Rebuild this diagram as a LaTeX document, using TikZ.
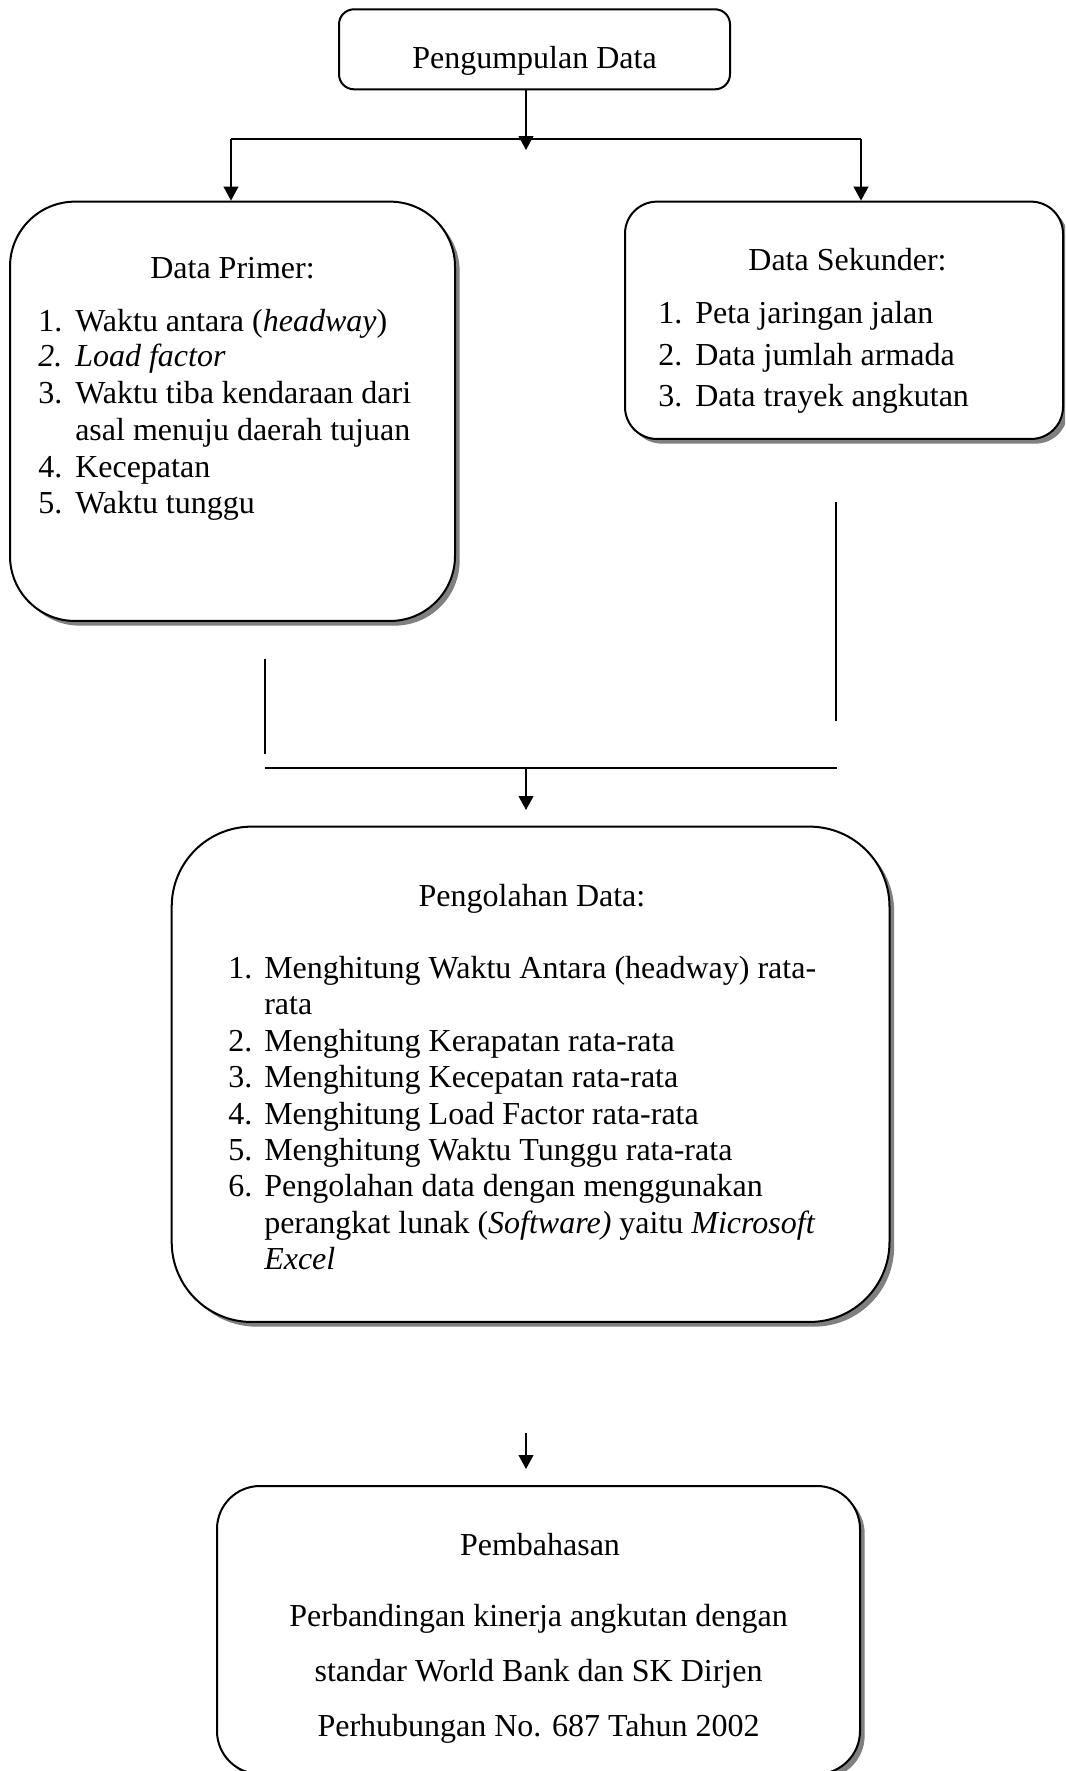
\documentclass[tikz,border=0pt]{standalone}
\usepackage{fontspec}
\setmainfont{Liberation Serif}
\usetikzlibrary{arrows.meta,shadows}
\begin{document}
\begin{tikzpicture}[x=0.75pt,y=-0.75pt,
  box/.style={draw, line width=1.5pt, fill=white, rounded corners=#1, inner sep=0pt},
  shad/.style={drop shadow={shadow xshift=3.5pt,shadow yshift=-3.5pt,fill=black!50,opacity=1}},
  txt/.style={font=\fontsize{24}{28}\selectfont, inner sep=0pt, anchor=base},
  lnum/.style={txt, anchor=base west},
  conn/.style={line width=1.5pt},
  arr/.style={conn, -{Triangle[width=11pt,length=10.5pt]}}]
\useasboundingbox (0,0) rectangle (1065,1771);
\clip (0,0) rectangle (1065,1771);

% boxes
\node[box=11.25pt, minimum width=293.25pt, minimum height=60pt] (top) at (534.5,49.3) {};
\node[box=48.75pt, shad, minimum width=333.75pt, minimum height=314.5pt] (primer) at (232.5,411.3) {};
\node[box=24pt, shad, minimum width=328.5pt, minimum height=178pt] (sek) at (844,320.3) {};
\node[box=60pt, shad, minimum width=538.35pt, minimum height=371.5pt] (olah) at (530.6,1074.3) {};
\node[box=32.25pt, shad, minimum width=482.25pt, minimum height=216pt] (bahas) at (538.5,1630) {};

% top text
\node[txt] (ttop) at (534.5,68.3) {Pengumpulan Data};

% Data Primer
\node[txt] (tprim) at (232.5,278) {Data Primer:};
\node[lnum] (p1n) at (38,331.7) {1.};
\node[lnum] (p1)  at (75,331.7) {Waktu antara (\textit{headway})};
\node[lnum] (p2n) at (38,366.7) {\textit{2.}};
\node[lnum] (p2)  at (75,366.7) {\textit{Load factor}};
\node[lnum] (p3n) at (38,403.3) {3.};
\node[lnum] (p3)  at (75,403.3) {Waktu tiba kendaraan dari};
\node[lnum] (p3b) at (75,440) {asal menuju daerah tujuan};
\node[lnum] (p4n) at (38,477) {4.};
\node[lnum] (p4)  at (75,477) {Kecepatan};
\node[lnum] (p5n) at (38,513.3) {5.};
\node[lnum] (p5)  at (75,513.3) {Waktu tunggu};

% Data Sekunder
\node[txt] (tsek) at (847.5,270) {Data Sekunder:};
\node[lnum] (s1n) at (658,323.3) {1.};
\node[lnum] (s1)  at (695,323.3) {Peta jaringan jalan};
\node[lnum] (s2n) at (658,365) {2.};
\node[lnum] (s2)  at (695,365) {Data jumlah armada};
\node[lnum] (s3n) at (658,406) {3.};
\node[lnum] (s3)  at (695,406) {Data trayek angkutan};

% Pengolahan Data
\node[txt] (tolah) at (532,906.6) {Pengolahan Data:};
\node[lnum] (o1n) at (228,978.5) {1.};
\node[lnum] (o1)  at (264,978.5) {Menghitung Waktu Antara (headway) rata-};
\node[lnum] (o1b) at (264,1014.9) {rata};
\node[lnum] (o2n) at (228,1051.3) {2.};
\node[lnum] (o2)  at (264,1051.3) {Menghitung Kerapatan rata-rata};
\node[lnum] (o3n) at (228,1087.7) {3.};
\node[lnum] (o3)  at (264,1087.7) {Menghitung Kecepatan rata-rata};
\node[lnum] (o4n) at (228,1124.1) {4.};
\node[lnum] (o4)  at (264,1124.1) {Menghitung Load Factor rata-rata};
\node[lnum] (o5n) at (228,1160.5) {5.};
\node[lnum] (o5)  at (264,1160.5) {Menghitung Waktu Tunggu rata-rata};
\node[lnum] (o6n) at (228,1196.9) {6.};
\node[lnum] (o6)  at (264,1196.9) {Pengolahan data dengan menggunakan};
\node[lnum] (o6b) at (264,1233.3) {perangkat lunak (\textit{Software)} yaitu \textit{Microsoft}};
\node[lnum] (o6c) at (264,1269.7) {\textit{Excel}};

% Pembahasan
\node[txt] (tbah) at (540,1555) {Pembahasan};
\node[txt] (b1) at (538.6,1626.7) {Perbandingan kinerja angkutan dengan};
\node[txt] (b2) at (538.6,1681.7) {standar World Bank dan SK Dirjen};
\node[txt] (b3) at (538.6,1736) {Perhubungan No. 687 Tahun 2002};

% connectors
\coordinate (j1) at (526,150);
\coordinate (bl) at (231,139);
\coordinate (br) at (861,139);
\draw[arr] (top.south -| j1) -- (j1);
\draw[conn] (bl) -- (br);
\draw[arr] (bl) -- (bl |- primer.north);
\draw[arr] (br) -- (br |- sek.north);

\coordinate (l1) at (265,659);
\coordinate (l2) at (265,754);
\coordinate (r1) at (836,502);
\coordinate (r2) at (836,721);
\coordinate (h1) at (265,768);
\coordinate (h2) at (837,768);
\coordinate (m1) at (526,768);
\coordinate (m2) at (526,810);
\draw[conn] (l1) -- (l2);
\draw[conn] (r1) -- (r2);
\draw[conn] (h1) -- (h2);
\draw[arr] (m1) -- (m2);

\coordinate (n1) at (526,1433);
\coordinate (n2) at (526,1469);
\draw[arr] (n1) -- (n2);
\end{tikzpicture}
\end{document}
